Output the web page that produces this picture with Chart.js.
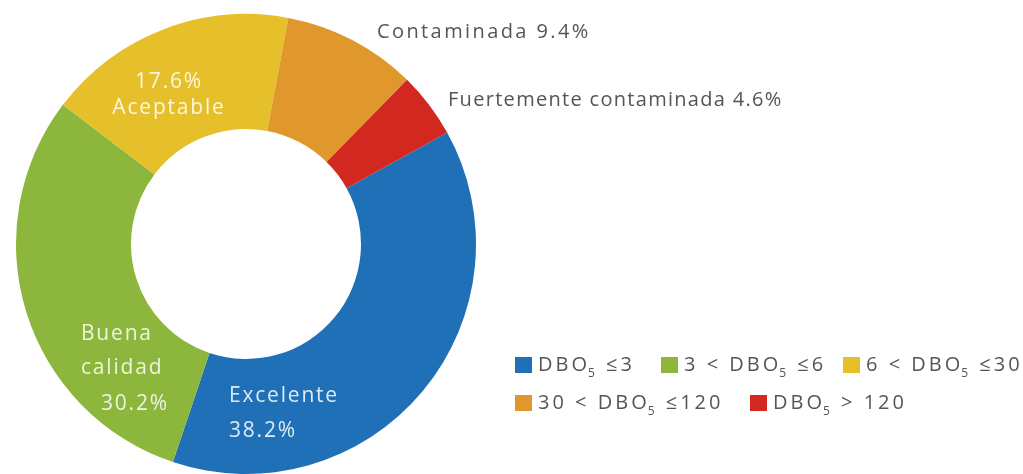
<!DOCTYPE html>
<html>
<head>
<meta charset="utf-8">
<script src="https://cdn.jsdelivr.net/npm/chart.js@4.4.0/dist/chart.umd.min.js"></script>
<style>
  html, body { margin: 0; padding: 0; background: #fff; }
</style>
</head>
<body>
<canvas id="dboChart" width="1023" height="474"></canvas>
<script>
const categorias = ['Excelente', 'Buena calidad', 'Aceptable', 'Contaminada', 'Fuertemente contaminada'];
const porcentajes = [38.2, 30.2, 17.6, 9.4, 4.6];
const rangos = ['DBO₅ ≤3', '3 < DBO₅ ≤6', '6 < DBO₅ ≤30', '30 < DBO₅ ≤120', 'DBO₅ > 120'];
const colores = ['#2070b8', '#8cb63c', '#e6c02a', '#e0982c', '#d2281f'];

const FUENTE = '"Open Sans", "DejaVu Sans", sans-serif';
const pct = i => porcentajes[i].toFixed(1) + '%';

// draws text, with the "₅" of DBO₅ as a small lowered 5
function textoDBO(ctx, txt, x, y, size) {
  const partes = txt.split('₅');
  partes.forEach((p, k) => {
    ctx.font = size + 'px ' + FUENTE;
    ctx.fillText(p, x, y);
    x += ctx.measureText(p).width;
    if (k < partes.length - 1) {
      ctx.font = Math.round(size * 0.6) + 'px ' + FUENTE;
      ctx.fillText('5', x - 2, y + 9);
      x += ctx.measureText('5').width - 2;
    }
  });
}

const rotulos = {
  id: 'rotulos',
  afterDatasetsDraw(chart) {
    const ctx = chart.ctx;
    const arc = chart.getDatasetMeta(0).data[0];
    const cx = arc.x, cy = arc.y;
    ctx.save();
    ctx.textBaseline = 'middle';

    // labels inside the ring
    ctx.fillStyle = 'rgba(255,255,255,0.85)';
    ctx.letterSpacing = '1.8px';
    ctx.font = '21px ' + FUENTE;
    ctx.textAlign = 'center';
    ctx.fillText(pct(2), cx - 77, cy - 162);
    ctx.fillText(categorias[2], cx - 77, cy - 136);
    ctx.textAlign = 'left';
    const buena = categorias[1].split(' ');
    ctx.fillText(buena[0], cx - 165, cy + 90);
    ctx.fillText(buena[1], cx - 165, cy + 124);
    ctx.fillText(pct(1), cx - 145, cy + 160);
    ctx.fillText(categorias[0], cx - 17, cy + 152);
    ctx.fillText(pct(0), cx - 17, cy + 187);

    // labels outside the ring
    ctx.fillStyle = '#555';
    ctx.font = '20px ' + FUENTE;
    ctx.letterSpacing = '2.4px';
    ctx.fillText(categorias[3] + ' ' + pct(3), cx + 131, cy - 212);
    ctx.letterSpacing = '1.3px';
    ctx.fillText(categorias[4] + ' ' + pct(4), cx + 202, cy - 144);

    // legend, two rows
    ctx.letterSpacing = '3px';
    const filas = [365, 403];
    const items = [[515, 0], [661, 0], [843, 0], [515, 1], [750, 1]];
    items.forEach(([x, f], i) => {
      const y = filas[f];
      ctx.fillStyle = colores[i];
      ctx.fillRect(x, y - 8, 17, 16);
      ctx.fillStyle = '#555';
      textoDBO(ctx, rangos[i], x + 23, y, 20);
    });
    ctx.restore();
  }
};

new Chart(document.getElementById('dboChart'), {
  type: 'doughnut',
  data: {
    labels: categorias,
    datasets: [{
      data: porcentajes,
      backgroundColor: colores,
      borderWidth: 0,
      hoverOffset: 0
    }]
  },
  options: {
    responsive: false,
    animation: false,
    rotation: 61,
    cutout: '50%',
    layout: { padding: { left: 16, top: 14, right: 547, bottom: 0 } },
    plugins: { legend: { display: false }, tooltip: { enabled: false } }
  },
  plugins: [rotulos]
});
</script>
</body>
</html>
